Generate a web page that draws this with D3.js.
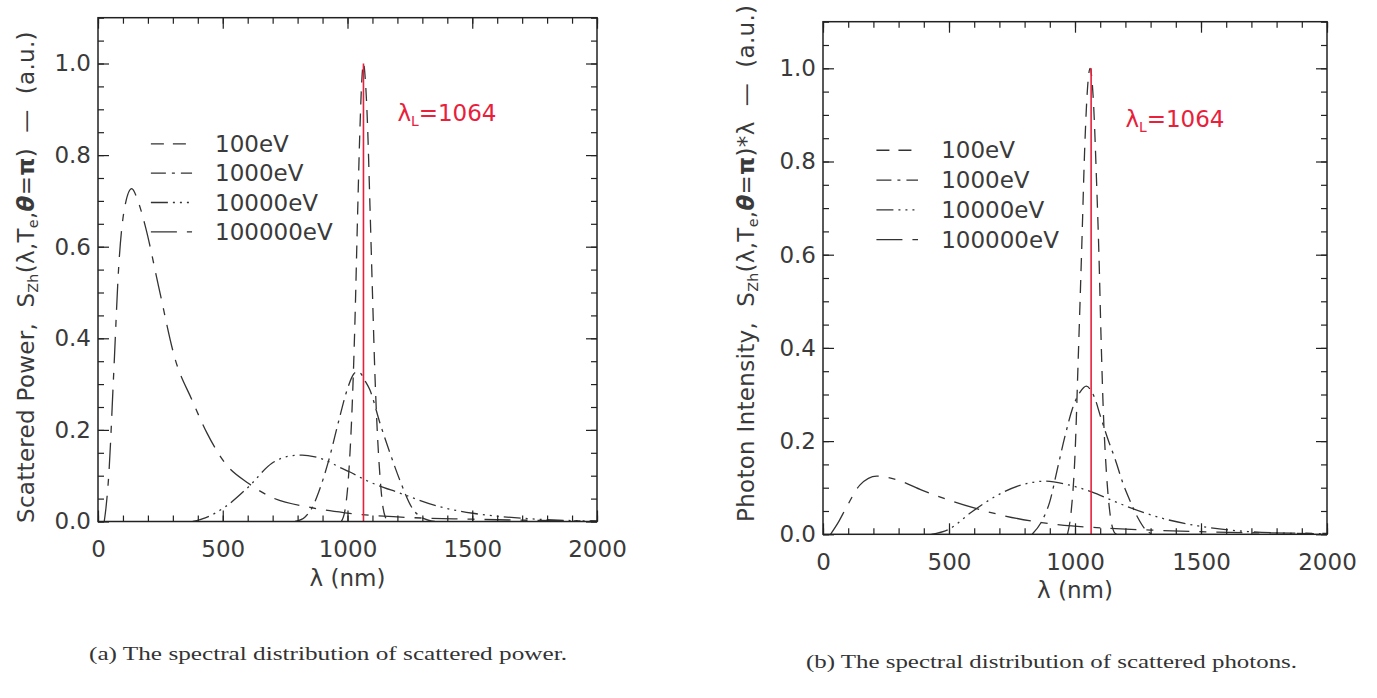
<!DOCTYPE html>
<html><head><meta charset="utf-8">
<script src="https://cdn.jsdelivr.net/npm/d3@7"></script>
<style>
body{margin:0;background:#fff;}
svg{display:block;font-family:"DejaVu Sans",sans-serif;}
</style></head><body>
<svg id="chart" width="1377" height="698"></svg>
<script>
// ---------- data ----------
const seriesLabels = ["100eV", "1000eV", "10000eV", "100000eV"];
const xTicks = [0, 500, 1000, 1500, 2000];
const yTicks = [0.0, 0.2, 0.4, 0.6, 0.8, 1.0];
const laserWavelength = 1064;
const laserLabelValue = "=1064";

// (a) scattered power  [wavelength nm, value a.u.]
const power100eV = [[975,0],[990,0.025],[1000,0.07],[1010,0.15],[1020,0.27],[1030,0.44],[1040,0.66],[1050,0.86],[1058,0.97],[1064,1.0],[1072,0.96],[1080,0.87],[1090,0.69],[1100,0.5],[1110,0.32],[1120,0.19],[1130,0.1],[1140,0.04],[1150,0.012],[1165,0]];
const power1000eV = [[790,0],[830,0.01],[858,0.03],[885,0.065],[925,0.134],[965,0.22],[1000,0.29],[1025,0.322],[1040,0.327],[1055,0.322],[1065,0.312],[1090,0.287],[1130,0.215],[1170,0.15],[1210,0.09],[1262,0.027],[1300,0.008],[1350,0]];
const power10000eV = [[380,0],[430,0.008],[510,0.032],[604,0.076],[697,0.127],[760,0.142],[818,0.145],[870,0.141],[911,0.134],[970,0.118],[1010,0.108],[1070,0.091],[1210,0.062],[1371,0.032],[1503,0.018],[1703,0.007],[1900,0.002],[2000,0.001]];
const power100000eV = [[25,0],[32,0.03],[43,0.1],[63,0.324],[83,0.556],[105,0.68],[135,0.727],[160,0.7],[190,0.644],[243,0.513],[310,0.353],[377,0.265],[437,0.193],[510,0.127],[604,0.083],[684,0.056],[858,0.03],[990,0.019],[1200,0.01],[1500,0.005],[2000,0.001]];

// (b) scattered photons
const photon100eV = [[970,0],[985,0.05],[1000,0.17],[1013,0.38],[1027,0.62],[1038,0.82],[1050,0.96],[1060,1.0],[1073,0.93],[1086,0.75],[1095,0.6],[1103,0.43],[1112,0.27],[1125,0.13],[1140,0.04],[1155,0.005],[1165,0]];
const photon1000eV = [[830,0],[870,0.03],[900,0.07],[930,0.14],[960,0.21],[990,0.27],[1020,0.305],[1045,0.318],[1062,0.31],[1080,0.29],[1100,0.255],[1130,0.205],[1160,0.16],[1190,0.11],[1220,0.07],[1250,0.035],[1280,0.01],[1310,0]];
const photon10000eV = [[430,0],[497,0.01],[590,0.048],[683,0.081],[788,0.106],[881,0.114],[974,0.106],[1066,0.091],[1159,0.07],[1265,0.048],[1370,0.031],[1489,0.018],[1635,0.008],[1800,0.003],[2000,0.001]];
const photon100000eV = [[30,0],[60,0.025],[94,0.059],[147,0.106],[213,0.125],[299,0.116],[392,0.095],[497,0.074],[603,0.056],[709,0.041],[868,0.025],[987,0.018],[1100,0.014],[1300,0.009],[1540,0.005],[2000,0.002]];

const captionA = "(a) The spectral distribution of scattered power.";
const captionB = "(b) The spectral distribution of scattered photons.";

// ---------- style ----------
const dashes = ["13,9", "15,6,3,6", "17,5,2,5,2,5,2,5", "26,10,7,10"];
const FS = 23;
const textColor = "#3a3a3a";
const lineColor = "#333";
const red = "#e8203a";
const NB = "\u00A0";

const svg = d3.select("#chart");
svg.append("rect").attr("width",1377).attr("height",698).attr("fill","#fff");

const panels = [
  { id:"a", xr:[98,597], y0:521.5, yUnit:458, series:[power100eV,power1000eV,power10000eV,power100000eV],
    ylabX:34, ylabY:523, ylabMain:"Scattered Power,", ylabExtra:"",
    caption:captionA, capX:89, capY:660, capLen:478 },
  { id:"b", xr:[823,1327], y0:534.3, yUnit:466, series:[photon100eV,photon1000eV,photon10000eV,photon100000eV],
    ylabX:754, ylabY:522, ylabMain:"Photon Intensity,", ylabExtra:"*λ",
    caption:captionB, capX:806, capY:668, capLen:491 }
];

panels.forEach(p => {
  const x = d3.scaleLinear().domain([0,2000]).range(p.xr);
  const y = d3.scaleLinear().domain([0,1.1]).range([p.y0, p.y0 - p.yUnit*1.1]);
  const g = svg.append("g");
  const [xl, xrr] = p.xr;
  const yt = y(1.1), yb = y(0);

  const clipId = "clip-" + p.id;
  svg.append("clipPath").attr("id", clipId).append("rect")
    .attr("x", xl).attr("y", yt).attr("width", xrr-xl).attr("height", yb-yt);

  // curves
  const line = d3.line().x(d => x(d[0])).y(d => y(d[1])).curve(d3.curveMonotoneX);
  p.series.forEach((s, i) => {
    g.append("path").attr("d", line(s)).attr("fill","none")
      .attr("stroke", lineColor).attr("stroke-width", 1.3)
      .attr("stroke-dasharray", dashes[i]).attr("clip-path", `url(#${clipId})`);
  });

  // laser line
  g.append("line").attr("x1", x(laserWavelength)).attr("x2", x(laserWavelength))
    .attr("y1", y(0)).attr("y2", y(1.0)).attr("stroke", red).attr("stroke-width", 1.6);

  // axes
  const styleAxis = sel => {
    sel.select(".domain").remove();
    sel.selectAll(".tick line").attr("stroke","#222").attr("stroke-width",1.2);
    sel.selectAll("text").attr("fill", textColor).attr("font-size", FS)
       .attr("font-family", '"DejaVu Sans", sans-serif');
  };
  const minorX = d3.range(0, 2001, 100);
  const minorY = d3.range(0, 1.1001, 0.05).map(v => +v.toFixed(2));

  g.append("g").attr("transform", `translate(0,${yb})`)
    .call(d3.axisBottom(x).tickValues(minorX).tickSize(-6).tickFormat("")).call(styleAxis);
  g.append("g").attr("transform", `translate(0,${yb})`)
    .call(d3.axisBottom(x).tickValues(xTicks).tickSize(-11).tickPadding(19).tickFormat(d3.format("d"))).call(styleAxis);
  g.append("g").attr("transform", `translate(0,${yt})`)
    .call(d3.axisTop(x).tickValues(minorX).tickSize(-6).tickFormat("")).call(styleAxis);
  g.append("g").attr("transform", `translate(0,${yt})`)
    .call(d3.axisTop(x).tickValues(xTicks).tickSize(-11).tickFormat("")).call(styleAxis);

  g.append("g").attr("transform", `translate(${xl},0)`)
    .call(d3.axisLeft(y).tickValues(minorY).tickSize(-6).tickFormat("")).call(styleAxis);
  g.append("g").attr("transform", `translate(${xl},0)`)
    .call(d3.axisLeft(y).tickValues(yTicks).tickSize(-11).tickPadding(7).tickFormat(d3.format(".1f"))).call(styleAxis);
  g.append("g").attr("transform", `translate(${xrr},0)`)
    .call(d3.axisRight(y).tickValues(minorY).tickSize(-6).tickFormat("")).call(styleAxis);
  g.append("g").attr("transform", `translate(${xrr},0)`)
    .call(d3.axisRight(y).tickValues(yTicks).tickSize(-11).tickFormat("")).call(styleAxis);

  // frame
  g.append("rect").attr("x", xl).attr("y", yt).attr("width", xrr-xl).attr("height", yb-yt)
    .attr("fill","none").attr("stroke","#222").attr("stroke-width",1.5);

  // x title
  g.append("text").attr("x", (xl+xrr)/2).attr("y", yb + 64).attr("text-anchor","middle")
    .attr("font-size", FS).attr("fill", textColor).text("λ" + NB + "(nm)");

  // y title
  const yl = g.append("text").attr("transform", `translate(${p.ylabX},${p.ylabY}) rotate(-90)`)
    .attr("font-size", FS).attr("fill", textColor).attr("letter-spacing", 0.3);
  yl.append("tspan").text(p.ylabMain + NB + NB + "S");
  yl.append("tspan").attr("font-size", FS*0.62).attr("dy", 4).text("Zh");
  yl.append("tspan").attr("dy", -4).text("(λ,T");
  yl.append("tspan").attr("font-size", FS*0.62).attr("dy", 4).text("e");
  yl.append("tspan").attr("dy", -4).text(",");
  yl.append("tspan").attr("font-weight","bold").attr("font-style","italic").text("θ");
  yl.append("tspan").text("=");
  yl.append("tspan").attr("font-weight","bold").text("π");
  yl.append("tspan").text(")" + p.ylabExtra + NB + NB + "—" + NB + NB + "(a.u.)");

  // legend
  seriesLabels.forEach((lab, i) => {
    const by = y(0.807) + i * 0.064 * p.yUnit;
    g.append("line").attr("x1", x(212)).attr("x2", x(377)).attr("y1", by - 8).attr("y2", by - 8)
      .attr("stroke", lineColor).attr("stroke-width", 1.3).attr("stroke-dasharray", dashes[i]);
    g.append("text").attr("x", x(469)).attr("y", by).attr("font-size", FS)
      .attr("fill", textColor).text(lab);
  });

  // laser label
  const ll = g.append("text").attr("x", x(1200)).attr("y", y(0.875)).attr("font-size", FS).attr("fill", red);
  ll.append("tspan").text("λ");
  ll.append("tspan").attr("font-size", FS*0.6).attr("dy", 5).text("L");
  ll.append("tspan").attr("dy", -5).text(laserLabelValue);

  // caption
  svg.append("text").attr("x", p.capX).attr("y", p.capY)
    .attr("font-family", '"Liberation Serif", "DejaVu Serif", serif').attr("font-size", 18)
    .attr("fill", "#333").attr("textLength", p.capLen).attr("lengthAdjust","spacingAndGlyphs")
    .text(p.caption);
});
</script>
</body></html>
